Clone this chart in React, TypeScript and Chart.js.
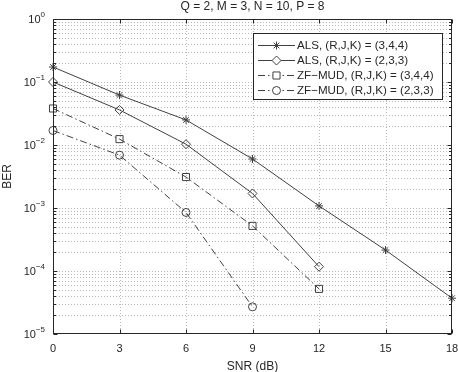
import React, { useEffect, useRef } from 'react';
import { Chart, registerables } from 'chart.js';

Chart.register(...registerables);

const snr = [0, 3, 6, 9, 12, 15, 18];
const als344 = [0.173, 0.062, 0.025, 0.006, 0.00108, 2.15e-4, 3.7e-5];
const als233 = [0.1, 0.036, 0.0103, 0.0017, 1.17e-4];
const zf344 = [0.038, 0.0124, 0.0031, 5.2e-4, 5.2e-5];
const zf233 = [0.017, 0.0069, 8.5e-4, 2.7e-5];

const xTicks = [0, 3, 6, 9, 12, 15, 18];
const yDecades = [-5, -4, -3, -2, -1, 0];
const titleText = 'Q = 2, M = 3, N = 10, P = 8';
const xTitle = 'SNR (dB)';
const yTitle = 'BER';
const seriesLabels = [
  'ALS, (R,J,K) = (3,4,4)',
  'ALS, (R,J,K) = (2,3,3)',
  'ZF\u2212MUD, (R,J,K) = (3,4,4)',
  'ZF\u2212MUD, (R,J,K) = (2,3,3)',
];

const FONT = '"Liberation Sans", Arial, Helvetica, sans-serif';
const LINE = '#404040';
const AXIS = '#262626';
const GRID = '#b8b8b8';
const DASHDOT = [7, 3, 1.5, 3];

const styles = [
  { pointStyle: 'star', radius: 4, dash: [] as number[] },
  { pointStyle: 'rectRot', radius: 4.5, dash: [] as number[] },
  { pointStyle: 'rect', radius: 5, dash: DASHDOT },
  { pointStyle: 'circle', radius: 4, dash: DASHDOT },
];

function drawMarker(ctx: CanvasRenderingContext2D, style: string, r: number, x: number, y: number) {
  ctx.save();
  ctx.setLineDash([]);
  ctx.beginPath();
  if (style === 'star') {
    ctx.moveTo(x - r, y); ctx.lineTo(x + r, y);
    ctx.moveTo(x, y - r); ctx.lineTo(x, y + r);
    const d = r * Math.SQRT1_2;
    ctx.moveTo(x - d, y - d); ctx.lineTo(x + d, y + d);
    ctx.moveTo(x - d, y + d); ctx.lineTo(x + d, y - d);
  } else if (style === 'rectRot') {
    ctx.moveTo(x, y - r); ctx.lineTo(x + r, y); ctx.lineTo(x, y + r); ctx.lineTo(x - r, y); ctx.closePath();
  } else if (style === 'rect') {
    const s = r * Math.SQRT1_2;
    ctx.rect(x - s, y - s, 2 * s, 2 * s);
  } else {
    ctx.arc(x, y, r, 0, Math.PI * 2);
  }
  ctx.fillStyle = '#ffffff';
  if (style !== 'star') ctx.fill();
  ctx.stroke();
  ctx.restore();
}

const matlabPlugin = {
  id: 'matlabAxes',
  beforeDatasetsDraw(chart: any) {
    const { ctx, chartArea: a, scales } = chart;
    const xs = scales.x;
    const ys = scales.y;
    ctx.save();
    ctx.strokeStyle = GRID;
    ctx.lineWidth = 1;
    ctx.setLineDash([1, 2]);
    xTicks.forEach((v) => {
      const px = Math.round(xs.getPixelForValue(v)) + 0.5;
      if (px <= a.left + 1 || px >= a.right - 1) return;
      ctx.beginPath();
      ctx.moveTo(px, a.top);
      ctx.lineTo(px, a.bottom);
      ctx.stroke();
    });
    yDecades.forEach((d) => {
      for (let m = 1; m <= 9; m++) {
        if (d === 0 && m > 1) continue;
        const py = Math.round(ys.getPixelForValue(m * Math.pow(10, d))) + 0.5;
        if (py <= a.top + 1 || py >= a.bottom - 1) continue;
        ctx.beginPath();
        ctx.moveTo(a.left, py);
        ctx.lineTo(a.right, py);
        ctx.stroke();
      }
    });
    ctx.restore();
  },
  afterDatasetsDraw(chart: any) {
    const { ctx, chartArea: a, scales } = chart;
    const xs = scales.x;
    const ys = scales.y;
    ctx.save();
    ctx.setLineDash([]);
    ctx.strokeStyle = AXIS;
    ctx.lineWidth = 1;
    const L = Math.round(a.left) + 0.5;
    const R = Math.round(a.right) - 0.5;
    const T = Math.round(a.top) + 0.5;
    const B = Math.round(a.bottom) - 0.5;
    ctx.strokeRect(L, T, R - L, B - T);

    // ticks
    ctx.beginPath();
    xTicks.forEach((v) => {
      const px = Math.round(xs.getPixelForValue(v)) + 0.5;
      ctx.moveTo(px, B); ctx.lineTo(px, B - 4);
      ctx.moveTo(px, T); ctx.lineTo(px, T + 4);
    });
    yDecades.forEach((d) => {
      for (let m = 1; m <= 9; m++) {
        if (d === 0 && m > 1) continue;
        const py = Math.round(ys.getPixelForValue(m * Math.pow(10, d))) + 0.5;
        const len = m === 1 ? 4 : 2.5;
        ctx.moveTo(L, py); ctx.lineTo(L + len, py);
        ctx.moveTo(R, py); ctx.lineTo(R - len, py);
      }
    });
    ctx.stroke();

    // x tick labels
    ctx.fillStyle = AXIS;
    ctx.font = `11px ${FONT}`;
    ctx.textAlign = 'center';
    ctx.textBaseline = 'middle';
    xTicks.forEach((v) => {
      ctx.fillText(String(v), xs.getPixelForValue(v), a.bottom + 15);
    });

    // y tick labels 10^d
    yDecades.forEach((d) => {
      const py = ys.getPixelForValue(Math.pow(10, d));
      const expStr = d === 0 ? '0' : '\u2212' + String(-d);
      ctx.font = `8px ${FONT}`;
      const we = ctx.measureText(expStr).width;
      ctx.font = `11px ${FONT}`;
      const wb = ctx.measureText('10').width;
      const right = a.left - 8;
      ctx.textAlign = 'left';
      ctx.fillText('10', right - we - wb, py + 1);
      ctx.font = `8px ${FONT}`;
      ctx.fillText(expStr, right - we, py - 4);
    });

    // titles
    ctx.font = `12px ${FONT}`;
    ctx.textAlign = 'center';
    const cx = (a.left + a.right) / 2;
    ctx.fillText(titleText, cx, 7);
    ctx.fillText(xTitle, cx, a.bottom + 33);
    ctx.save();
    ctx.translate(8, (a.top + a.bottom) / 2);
    ctx.rotate(-Math.PI / 2);
    ctx.fillText(yTitle, 0, 0);
    ctx.restore();

    // legend
    const bx = 253.5, by = 33.5, bw = 189, bh = 66;
    ctx.fillStyle = '#ffffff';
    ctx.fillRect(bx, by, bw, bh);
    ctx.strokeStyle = AXIS;
    ctx.strokeRect(bx, by, bw, bh);
    seriesLabels.forEach((label, i) => {
      const y = 45 + i * 15;
      const st = styles[i];
      ctx.strokeStyle = LINE;
      ctx.lineWidth = 1;
      ctx.setLineDash(st.dash);
      ctx.beginPath();
      ctx.moveTo(258, y + 0.5);
      ctx.lineTo(295, y + 0.5);
      ctx.stroke();
      ctx.setLineDash([]);
      drawMarker(ctx, st.pointStyle, st.radius, 276.5, y + 0.5);
      ctx.fillStyle = AXIS;
      ctx.font = `11.6px ${FONT}`;
      ctx.textAlign = 'left';
      ctx.textBaseline = 'middle';
      ctx.fillText(label, 297, y + 1);
    });
    ctx.restore();
  },
};

function toPoints(vals: number[]) {
  return vals.map((v, i) => ({ x: snr[i], y: v }));
}

export default function App() {
  const ref = useRef<HTMLCanvasElement | null>(null);
  useEffect(() => {
    document.body.style.margin = '0';
    const canvas = ref.current;
    if (!canvas) return;
    const series = [als344, als233, zf344, zf233];
    const chart = new Chart(canvas, {
      type: 'line',
      data: {
        datasets: series.map((s, i) => ({
          label: seriesLabels[i],
          data: toPoints(s),
          borderColor: LINE,
          borderWidth: 1,
          borderDash: styles[i].dash,
          pointStyle: styles[i].pointStyle as any,
          pointRadius: styles[i].radius,
          pointBorderColor: LINE,
          pointBackgroundColor: 'rgba(255,255,255,0)',
          pointBorderWidth: 1,
          fill: false,
          tension: 0,
          clip: false as any,
        })),
      },
      options: {
        responsive: false,
        maintainAspectRatio: false,
        animation: false,
        parsing: false as any,
        layout: { padding: { top: 19, right: 5, left: 0, bottom: 0 } },
        plugins: {
          legend: { display: false },
          title: { display: false },
          tooltip: { enabled: false },
        },
        scales: {
          x: {
            type: 'linear',
            min: 0,
            max: 18,
            ticks: { display: false, stepSize: 3 },
            grid: { display: false },
            border: { display: false },
            afterFit: (s: any) => { s.height = 38; },
          },
          y: {
            type: 'logarithmic',
            min: 1e-5,
            max: 1,
            ticks: { display: false },
            grid: { display: false },
            border: { display: false },
            afterFit: (s: any) => { s.width = 53; },
          },
        },
      },
      plugins: [matlabPlugin],
    });
    return () => chart.destroy();
  }, []);
  return <canvas ref={ref} width={458} height={372} style={{ display: 'block' }} />;
}
